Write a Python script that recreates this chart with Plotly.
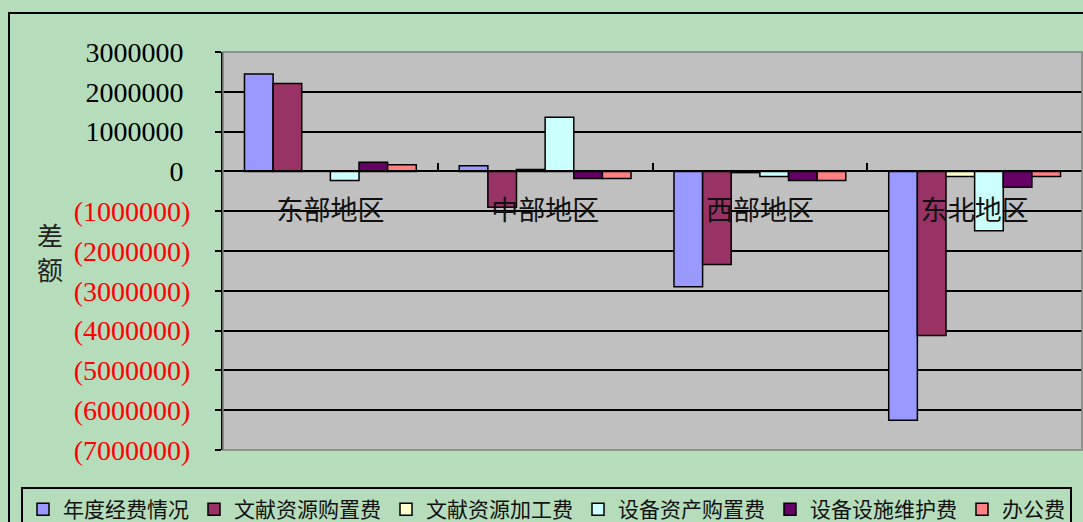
import plotly.graph_objects as go

categories = ["东部地区", "中部地区", "西部地区", "东北地区"]
series_names = ["年度经费情况", "文献资源购置费", "文献资源加工费", "设备资产购置费", "设备设施维护费", "办公费"]
annual_funds = [2450000, 140000, -2900000, -6250000]
literature_purchase = [2210000, -900000, -2340000, -4120000]
literature_processing = [10000, 50000, -30000, -130000]
equipment_purchase = [-230000, 1360000, -130000, -1490000]
facility_maintenance = [230000, -180000, -230000, -400000]
office_costs = [170000, -180000, -230000, -130000]
series_values = [annual_funds, literature_purchase, literature_processing,
                 equipment_purchase, facility_maintenance, office_costs]
colors = ["#9999FF", "#993366", "#FFFFCC", "#CCFFFF", "#660066", "#FF8080"]

y_min, y_max, y_step = -7000000, 3000000, 1000000
tick_vals = list(range(y_min, y_max + 1, y_step))


def fmt(v):
    if v < 0:
        return '<span style="color:#FF0000">(%d)</span>' % (-v)
    return "%d\u00a0" % v


tick_text = [fmt(v) for v in tick_vals]

fig = go.Figure()
for name, vals, col in zip(series_names, series_values, colors):
    fig.add_trace(go.Bar(x=categories, y=vals, name=name,
                         marker=dict(color=col, line=dict(color="black", width=1.5))))

bg = "#B6DDBB"
zero_pos = (0 - y_min) / (y_max - y_min)
pw, ph = 859, 398
ml, mt = 223, 52

fig.update_layout(
    width=1083, height=522,
    margin=dict(l=ml, r=1, t=mt, b=72, autoexpand=False),
    paper_bgcolor=bg, plot_bgcolor="#C0C0C0",
    barmode="group", bargap=0.2, bargroupgap=0,
    showlegend=True,
    legend=dict(orientation="h", x=(21 - ml) / pw, y=(450 - 487) / ph,
                xanchor="left", yanchor="top",
                bordercolor="black", borderwidth=2, bgcolor=bg,
                font=dict(family="Noto Sans CJK SC", size=21, color="#111"),
                traceorder="normal"),
    xaxis=dict(anchor="free", position=zero_pos, showline=True, linecolor="black",
               linewidth=2, ticks="inside", tickson="boundaries", ticklen=7,
               tickcolor="black", tickwidth=2, showgrid=False,
               tickfont=dict(family="Noto Sans CJK SC", size=27, color="#111"),
               ticklabelstandoff=15),
    yaxis=dict(range=[y_min, y_max], tickvals=tick_vals, ticktext=tick_text,
               showline=True, linecolor="black", linewidth=2,
               ticks="outside", ticklen=6, tickcolor="black", tickwidth=2,
               showgrid=True, gridcolor="black", gridwidth=1.5,
               zeroline=True, zerolinecolor="black", zerolinewidth=2,
               tickfont=dict(family="Liberation Serif", size=28, color="black"),
               ticklabelstandoff=19),
    font=dict(family="Noto Sans CJK SC"),
)

fig.add_shape(type="rect", xref="paper", yref="paper", x0=0, x1=1, y0=0, y1=1,
              line=dict(color="#808080", width=1.5), layer="above")
fig.add_shape(type="rect", xref="paper", yref="paper",
              x0=(9 - ml) / pw, x1=1.05, y0=1 + (mt - 13) / ph, y1=-0.3,
              line=dict(color="black", width=2), layer="below")

fig.add_annotation(text="差<br>额", xref="paper", yref="paper",
                   x=(50 - ml) / pw, y=(450 - 252) / ph, showarrow=False,
                   xanchor="center", yanchor="middle",
                   font=dict(family="Noto Sans CJK SC", size=26, color="#222"))

fig.write_html("out.html", config={"displayModeBar": False},
               post_script="document.body.style.margin='0';document.body.style.overflow='hidden';")
